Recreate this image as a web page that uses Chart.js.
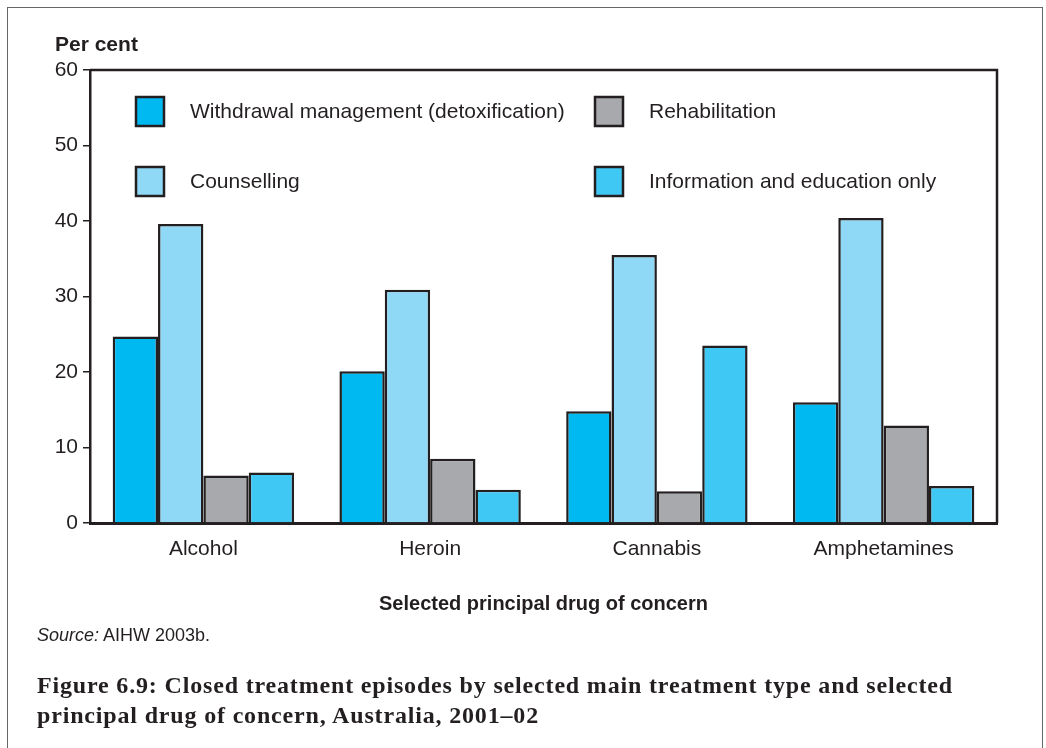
<!DOCTYPE html>
<html>
<head>
<meta charset="utf-8">
<script src="https://cdn.jsdelivr.net/npm/chart.js@4"></script>
<style>
  html, body { margin: 0; padding: 0; background: #fff; }
  #wrap { position: relative; width: 1046px; height: 748px; overflow: hidden; }
  #frame { position: absolute; left: 7px; top: 7px; width: 1036px; height: 760px; border: 1.5px solid #666; box-sizing: border-box; }
  #chart { position: absolute; left: 0; top: 0; }
  #source { position: absolute; left: 37px; top: 625px; font: 18px "Liberation Sans", Arial, sans-serif; color: #231f20; }
  #caption { position: absolute; left: 37px; top: 670px; font: bold 24px "Liberation Serif", "Times New Roman", serif; line-height: 30px; color: #231f20; white-space: nowrap; }
</style>
</head>
<body>
<div id="wrap">
  <div id="frame"></div>
  <canvas id="chart" width="1046" height="748"></canvas>
  <div id="source"><i>Source:</i> AIHW 2003b.</div>
  <div id="caption"><span id="cap1">Figure 6.9: Closed treatment episodes by selected main treatment type and selected</span><br>principal drug of concern, Australia, 2001–02</div>
</div>
<script>
// Data (per cent of closed treatment episodes)
const drugs = ["Alcohol", "Heroin", "Cannabis", "Amphetamines"];
const withdrawal = [24.7, 20.1, 14.8, 16.0];
const counselling = [39.6, 30.9, 35.5, 40.4];
const rehabilitation = [6.3, 8.5, 4.2, 12.9];
const infoEducation = [6.7, 4.4, 23.5, 4.9];
const yTicks = [0, 10, 20, 30, 40, 50, 60];

const ink = '#231f20';
const sans = '"Liberation Sans", Arial, sans-serif';

// original caption is a wider serif: spread the letters so line one is ~916px
const cap = document.getElementById('caption');
const cap1 = document.getElementById('cap1');
const extra = (916 - cap1.getBoundingClientRect().width) / cap1.textContent.length;
cap.style.letterSpacing = Math.max(0, extra).toFixed(2) + 'px';

// legend sits inside the plot area, two columns by two rows
const legendInside = {
    id: 'legendInside',
    afterDraw(chart) {
        const ctx = chart.ctx;
        const order = [0, 2, 1, 3];
        ctx.save();
        ctx.font = '21px ' + sans;
        ctx.textBaseline = 'middle';
        order.forEach((di, i) => {
            const ds = chart.data.datasets[di];
            const bx = i % 2 === 0 ? 136 : 595;
            const by = i < 2 ? 97 : 167;
            ctx.fillStyle = ds.backgroundColor;
            ctx.fillRect(bx, by, 28, 29);
            ctx.lineWidth = 2.5;
            ctx.strokeStyle = ink;
            ctx.strokeRect(bx, by, 28, 29);
            ctx.fillStyle = ink;
            ctx.fillText(ds.label, bx + 54, by + 15);
        });
        ctx.restore();
    }
};

// top and right edges of the plot box, plus the y-axis heading
const plotBox = {
    id: 'plotBox',
    afterDraw(chart) {
        const { left, top, right, bottom } = chart.chartArea;
        const ctx = chart.ctx;
        ctx.save();
        ctx.strokeStyle = ink;
        ctx.lineWidth = 2.5;
        ctx.beginPath();
        ctx.moveTo(left, top);
        ctx.lineTo(right, top);
        ctx.lineTo(right, bottom);
        ctx.stroke();
        ctx.fillStyle = ink;
        ctx.font = 'bold 21px ' + sans;
        ctx.textBaseline = 'middle';
        ctx.fillText('Per cent', 55, 45);
        ctx.restore();
    }
};

const ctx = document.getElementById('chart').getContext('2d');
new Chart(ctx, {
    type: 'bar',
    data: {
        labels: drugs,
        datasets: [
            { label: 'Withdrawal management (detoxification)', data: withdrawal, backgroundColor: '#00b9f1' },
            { label: 'Counselling', data: counselling, backgroundColor: '#8fd8f6' },
            { label: 'Rehabilitation', data: rehabilitation, backgroundColor: '#a7a9ac' },
            { label: 'Information and education only', data: infoEducation, backgroundColor: '#40c8f4' }
        ].map(d => Object.assign(d, { borderColor: ink, borderWidth: 2.5, categoryPercentage: 0.8, barPercentage: 1.0 }))
    },
    options: {
        responsive: false,
        animation: false,
        layout: { padding: { left: 0, top: 70, right: 49, bottom: 132 } },
        plugins: { legend: { display: false }, tooltip: { enabled: false } },
        scales: {
            x: {
                grid: { display: true, drawOnChartArea: false, drawTicks: false },
                border: { color: ink, width: 3 },
                ticks: { color: ink, padding: 14, font: { family: sans, size: 21 } },
                title: {
                    display: true,
                    text: 'Selected principal drug of concern',
                    color: ink,
                    font: { family: sans, size: 20, weight: 'bold' },
                    padding: { top: 0, bottom: 0 }
                },
                afterFit(scale) { scale.height = 93; }
            },
            y: {
                min: 0,
                max: 60,
                afterBuildTicks(scale) { scale.ticks = yTicks.map(v => ({ value: v })); },
                grid: { drawOnChartArea: false, drawTicks: true, tickLength: 7, color: ink, lineWidth: 1.5 },
                border: { color: ink, width: 2.5 },
                ticks: { color: ink, padding: 5, font: { family: sans, size: 21 } },
                afterFit(scale) { scale.width = 90; }
            }
        }
    },
    plugins: [legendInside, plotBox]
});
</script>
</body>
</html>
